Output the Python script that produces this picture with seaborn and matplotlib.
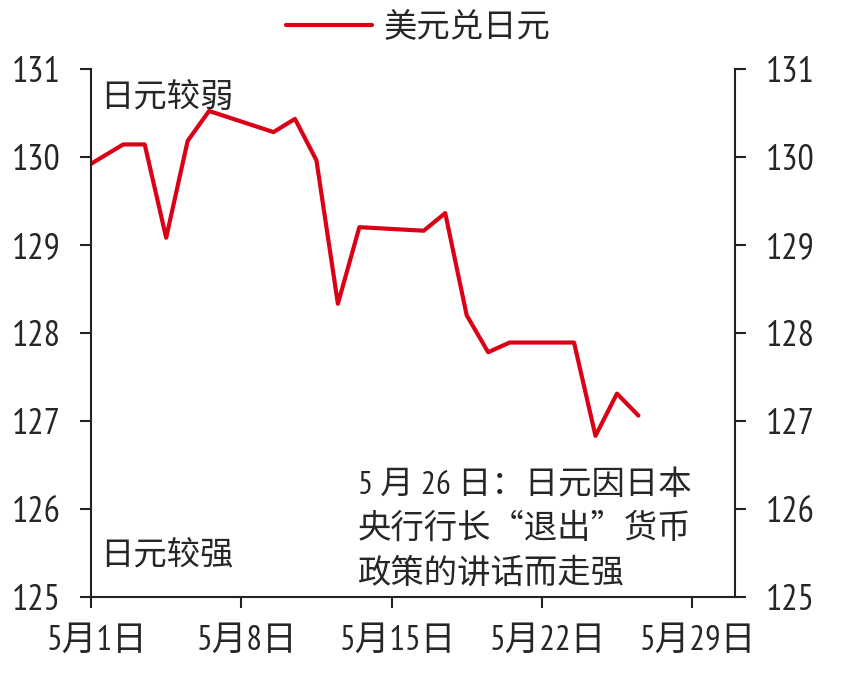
import pandas as pd
import matplotlib
matplotlib.use("Agg")
import matplotlib.pyplot as plt
import matplotlib.transforms as mtransforms
import seaborn as sns

# USD/JPY daily closes, May 2022
dates = ["2022-04-29", "2022-05-02", "2022-05-03", "2022-05-04", "2022-05-05",
         "2022-05-06", "2022-05-09", "2022-05-10", "2022-05-11", "2022-05-12",
         "2022-05-13", "2022-05-16", "2022-05-17", "2022-05-18", "2022-05-19",
         "2022-05-20", "2022-05-23", "2022-05-24", "2022-05-25", "2022-05-26"]
usdjpy = [129.70, 130.14, 130.14, 129.08, 130.18,
          130.52, 130.28, 130.43, 129.96, 128.33,
          129.20, 129.16, 129.36, 128.20, 127.78,
          127.89, 127.89, 126.83, 127.31, 127.06]
series_name = "美元兑日元"

tick_dates = ["2022-05-01", "2022-05-08", "2022-05-15", "2022-05-22", "2022-05-29"]
tick_labels = ["5月1日", "5月8日", "5月15日", "5月22日", "5月29日"]
y_ticks = [125, 126, 127, 128, 129, 130, 131]

note_weak = "日元较弱"
note_strong = "日元较强"
note_event = ["5 月 26 日：日元因日本", "央行行长“退出”货币", "政策的讲话而走强"]

sns.set_style("ticks")
plt.rcParams['font.family'] = ['PT Sans Narrow', 'Noto Sans CJK SC', 'DejaVu Sans']
cjk = ['Noto Sans CJK SC', 'DejaVu Sans']
mixed = ['PT Sans Narrow', 'Noto Sans CJK SC', 'DejaVu Sans']

df = pd.DataFrame({"date": pd.to_datetime(dates) + pd.Timedelta(hours=12), "value": usdjpy})

fig = plt.figure(figsize=(8.43, 6.79), dpi=100)
ax = fig.add_axes([0.108, 0.1208, 0.7639, 0.778])

red = '#DA0016'
sns.lineplot(data=df, x="date", y="value", ax=ax, color=red, linewidth=3, label=series_name, legend=False)

ax.set_xlim(pd.Timestamp("2022-05-01"), pd.Timestamp("2022-05-31"))
ax.set_ylim(125, 131)
ax.set_xticks(pd.to_datetime(tick_dates))
ax.set_xticklabels(tick_labels)
ax.set_yticks(y_ticks)
ax.set_xlabel("")
ax.set_ylabel("")

for s in ['left', 'right', 'bottom']:
    ax.spines[s].set_visible(True)
    ax.spines[s].set_linewidth(1.5)
    ax.spines[s].set_color('#222222')
ax.spines['top'].set_visible(False)

ax.yaxis.set_ticks_position('both')
ax.tick_params(axis='y', direction='out', length=8, width=1.5, color='#222222',
               labelright=True, labelsize=26, pad=14)
ax.tick_params(axis='x', direction='out', length=8, width=1.5, color='#222222',
               labelsize=25, pad=12)
shift = mtransforms.ScaledTranslation(6 / 100, 0, fig.dpi_scale_trans)
for lab in ax.get_xticklabels():
    lab.set_family(mixed)
    lab.set_transform(lab.get_transform() + shift)
for lab in ax.yaxis.get_ticklabels(which='major'):
    lab.set_family(mixed)

ax.text(0.014, 0.946, note_weak, transform=ax.transAxes, ha='left', va='center',
        fontsize=24, family=cjk)
ax.text(0.014, 0.0795, note_strong, transform=ax.transAxes, ha='left', va='center',
        fontsize=24, family=cjk)
# three-line note; first line keeps the narrow digits
note_y = [0.211, 0.130, 0.045]
for i, line in enumerate(note_event):
    ax.text(0.4146, note_y[i], line, transform=ax.transAxes, ha='left', va='center',
            fontsize=24, family=mixed if i == 0 else cjk)

handles, labels = ax.get_legend_handles_labels()
fig.legend(handles, labels, loc='center', bbox_to_anchor=(0.496, 0.96), frameon=False,
           prop={'family': cjk, 'size': 24}, handlelength=2.6, handletextpad=0.35)

fig.savefig("out.png", dpi=100)
